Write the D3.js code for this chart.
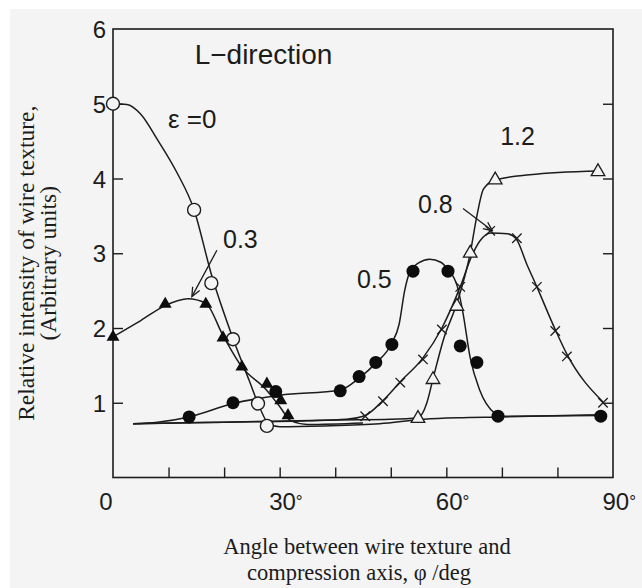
<!DOCTYPE html>
<html>
<head>
<meta charset="utf-8">
<script src="https://cdn.jsdelivr.net/npm/d3@7"></script>
<style>
  html, body { margin: 0; padding: 0; background: #ffffff; }
  svg { display: block; }
</style>
</head>
<body>
<svg id="chart" width="642" height="588"></svg>
<script>
// Relative intensity of the wire texture against the angle φ between the
// wire texture and the compression axis, one curve per strain ε (L-direction).

// ---- axis ticks and labels ----
const yTickValues = [1, 2, 3, 4, 5];
const yLabelValues = [1, 2, 3, 4, 5, 6];
const xTickValues = [10, 20, 30, 40, 50, 60, 70, 80];
const xLabelValues = [0, 30, 60, 90];

// ---- ε = 0 (open circles) ----
const eps0Curve = [[0, 5.0], [2.5, 4.99], [5, 4.86], [8, 4.52], [11.5, 4.08], [14.6, 3.58],
  [17.7, 2.72], [21.6, 1.86], [24.5, 1.3], [26.5, 0.92], [28, 0.72], [30, 0.68],
  [38, 0.69], [48, 0.72], [56, 0.78], [62, 0.8], [70, 0.81], [88, 0.84]];
const eps0Points = [[0, 5.0], [14.6, 3.58], [17.7, 2.6], [21.6, 1.85], [26.1, 0.99], [27.7, 0.69]];

// ---- ε = 0.3 (filled triangles) ----
const eps03Curve = [[0, 1.88], [5, 2.1], [9.4, 2.3], [13.5, 2.39], [16.7, 2.33], [19.8, 1.9],
  [23.2, 1.48], [27.5, 1.18], [30, 0.95], [32, 0.76], [35, 0.71], [45, 0.73]];
const eps03Points = [[0, 1.88], [9.4, 2.32], [16.7, 2.32], [19.8, 1.87], [23.2, 1.48],
  [27.7, 1.25], [30.2, 1.03], [31.5, 0.83]];

// ---- ε = 0.5 (filled circles) ----
const eps05Curve = [[3.6, 0.72], [8, 0.74], [13.7, 0.81], [21.6, 0.99], [30, 1.1], [40.9, 1.17],
  [44.3, 1.33], [47.3, 1.53], [50.2, 1.8], [51.5, 2.05], [52.5, 2.5], [53.5, 2.76], [55, 2.87],
  [57, 2.92], [59, 2.88], [60.3, 2.78], [62, 2.55], [63, 2.2], [64.3, 1.6], [66, 1.17],
  [68.7, 0.86], [70, 0.82], [87.8, 0.83]];
const eps05Points = [[13.7, 0.81], [21.6, 1.0], [29.3, 1.15], [40.9, 1.16], [44.3, 1.35],
  [47.3, 1.54], [50.2, 1.78], [54, 2.76], [60.3, 2.76], [62.5, 1.76], [65.5, 1.54],
  [69.3, 0.82], [87.8, 0.82]];

// ---- ε = 0.8 (crosses) ----
const eps08Curve = [[3.6, 0.72], [20, 0.74], [35, 0.76], [42, 0.78], [45.4, 0.83], [48.6, 1.03],
  [51.7, 1.28], [55.8, 1.6], [59.2, 2.0], [62.6, 2.57], [64.5, 2.95], [66, 3.16], [68, 3.27],
  [71, 3.26], [72.5, 3.2], [74.5, 2.85], [76.3, 2.55], [79.6, 1.98], [81.7, 1.65], [88.2, 1.01]];
const eps08Points = [[45.4, 0.82], [48.6, 1.02], [51.7, 1.27], [55.8, 1.58], [59.2, 1.98],
  [62.5, 2.55], [67.9, 3.3], [72.7, 3.2], [76.3, 2.55], [79.6, 1.96], [81.7, 1.62], [88.2, 1.0]];

// ---- ε = 1.2 (open triangles) ----
const eps12Curve = [[3.6, 0.72], [20, 0.74], [40, 0.77], [50, 0.78], [54.9, 0.8], [56.5, 1.0],
  [57.6, 1.32], [59.5, 1.85], [61.9, 2.33], [64.3, 3.0], [65.5, 3.5], [66.7, 3.86],
  [68.8, 3.98], [75, 4.05], [87.3, 4.1]];
const eps12Points = [[54.9, 0.79], [57.6, 1.31], [61.9, 2.29], [64.3, 3.0], [68.8, 3.98], [87.3, 4.09]];

// ---- layout ----
const W = 642, H = 588;
const plot = { left: 113, right: 613, top: 29, bottom: 477.5 };
const ink = "#1c1c1c";
const paper = "#f4f4f4";
const sans = "'Liberation Sans', Arial, Helvetica, sans-serif";
const serif = "'Liberation Serif', 'Times New Roman', serif";

const svg = d3.select("#chart");

svg.append("rect").attr("x", 10).attr("y", 9).attr("width", W - 10).attr("height", H - 9)
  .attr("fill", paper);

const x = d3.scaleLinear().domain([0, 90]).range([plot.left, plot.right]);
const y = d3.scaleLinear().domain([0, 6]).range([plot.bottom, plot.top]);

// inward ticks on left, right and bottom
const tickAxes = [
  { axis: d3.axisLeft(y).tickValues(yTickValues), tx: plot.left, ty: 0 },
  { axis: d3.axisRight(y).tickValues(yTickValues), tx: plot.right, ty: 0 },
  { axis: d3.axisBottom(x).tickValues(xTickValues), tx: 0, ty: plot.bottom }
];
tickAxes.forEach(a => {
  const g = svg.append("g").attr("transform", `translate(${a.tx},${a.ty})`)
    .call(a.axis.tickSizeInner(-10).tickSizeOuter(0).tickFormat(""));
  g.select(".domain").remove();
  g.selectAll(".tick line").attr("stroke", ink).attr("stroke-width", 1.4);
});

// frame
svg.append("rect")
  .attr("x", plot.left).attr("y", plot.top)
  .attr("width", plot.right - plot.left).attr("height", plot.bottom - plot.top)
  .attr("fill", "none").attr("stroke", ink).attr("stroke-width", 1.6);

// y tick labels
const yLab = svg.append("g").attr("transform", `translate(${plot.left},0)`)
  .call(d3.axisLeft(y).tickValues(yLabelValues).tickSize(0).tickPadding(7).tickFormat(d3.format("d")));
yLab.select(".domain").remove();
yLab.selectAll("text").attr("font-family", sans).attr("font-size", 24).attr("fill", ink)
  .attr("dy", "0.36em");

// x tick labels with degree marks
const xLab = svg.append("g").attr("transform", `translate(0,${plot.bottom})`)
  .call(d3.axisBottom(x).tickValues(xLabelValues).tickSize(0).tickPadding(15).tickFormat(""));
xLab.select(".domain").remove();
xLab.selectAll(".tick text").each(function (d) {
  const t = d3.select(this).attr("font-family", sans).attr("font-size", 24).attr("fill", ink);
  if (d === 0) {
    t.attr("text-anchor", "end").attr("x", -1).text("0");
  } else {
    t.attr("text-anchor", "start").attr("x", -11);
    t.append("tspan").text(String(d));
    t.append("tspan").attr("font-size", 17).attr("dy", "-0.15em").text("°");
  }
});

// axis titles
const yTitle = svg.append("text")
  .attr("transform", `translate(34,${(plot.top + plot.bottom) / 2 + 10}) rotate(-90)`)
  .attr("text-anchor", "middle").attr("font-family", serif).attr("font-size", 23.5).attr("fill", ink);
yTitle.append("tspan").attr("x", 0).attr("dy", 0).text("Relative intensity of wire texture,");
yTitle.append("tspan").attr("x", 0).attr("dy", 22).text("(Arbitrary units)");

const xTitle = svg.append("text").attr("text-anchor", "middle")
  .attr("font-family", serif).attr("font-size", 22.5).attr("fill", ink);
xTitle.append("tspan").attr("x", 367).attr("y", 554).text("Angle between wire texture and");
xTitle.append("tspan").attr("x", 359).attr("y", 580).text("compression axis, φ /deg");

// curves
const line = d3.line().x(d => x(d[0])).y(d => y(d[1])).curve(d3.curveMonotoneX);
const curves = [eps0Curve, eps03Curve, eps05Curve, eps08Curve, eps12Curve];
svg.append("g").selectAll("path").data(curves).join("path")
  .attr("d", line).attr("fill", "none").attr("stroke", ink).attr("stroke-width", 1.5)
  .attr("stroke-linejoin", "round");

// markers
const markers = svg.append("g");
markers.selectAll(".open-circle").data(eps0Points).join("circle")
  .attr("cx", d => x(d[0])).attr("cy", d => y(d[1])).attr("r", 6.5)
  .attr("fill", paper).attr("stroke", ink).attr("stroke-width", 1.4);

markers.selectAll(".filled-circle").data(eps05Points).join("circle")
  .attr("cx", d => x(d[0])).attr("cy", d => y(d[1])).attr("r", 6.5)
  .attr("fill", "#0d0d0d");

const tri = d3.symbol().type(d3.symbolTriangle).size(72);
markers.selectAll(".filled-tri").data(eps03Points).join("path")
  .attr("transform", d => `translate(${x(d[0])},${y(d[1])})`)
  .attr("d", tri).attr("fill", "#0d0d0d");

markers.selectAll(".open-tri").data(eps12Points).join("path")
  .attr("transform", d => `translate(${x(d[0])},${y(d[1])})`)
  .attr("d", d3.symbol().type(d3.symbolTriangle).size(80))
  .attr("fill", paper).attr("stroke", ink).attr("stroke-width", 1.3);

markers.selectAll(".cross").data(eps08Points).join("path")
  .attr("transform", d => `translate(${x(d[0])},${y(d[1])})`)
  .attr("d", d3.symbol().type(d3.symbolTimes).size(60))
  .attr("fill", "none").attr("stroke", ink).attr("stroke-width", 1.3);

// annotations
const defs = svg.append("defs");
defs.append("marker").attr("id", "vhead").attr("viewBox", "-1 -5 11 10")
  .attr("refX", 9).attr("refY", 0).attr("markerWidth", 11).attr("markerHeight", 10)
  .attr("markerUnits", "userSpaceOnUse").attr("orient", "auto")
  .append("path").attr("d", "M0,-4L9,0L0,4").attr("fill", "none")
  .attr("stroke", ink).attr("stroke-width", 1.3);

const label = (txt, phi, val, size) => svg.append("text")
  .attr("x", x(phi)).attr("y", y(val)).attr("font-family", sans)
  .attr("font-size", size).attr("fill", ink).text(txt);

label("L\u2212direction", 14.7, 5.53, 28);
label("\u03b5 =0", 9.9, 4.68, 26);
label("0.3", 19.8, 3.07, 25);
label("0.5", 43.9, 2.535, 25);
label("0.8", 54.9, 3.54, 25);
label("1.2", 69.7, 4.45, 25);

const arrows = [
  [[18.7, 3.04], [14.2, 2.42]],
  [[63.0, 3.6], [68.3, 3.3]]
];
svg.append("g").selectAll("line").data(arrows).join("line")
  .attr("x1", d => x(d[0][0])).attr("y1", d => y(d[0][1]))
  .attr("x2", d => x(d[1][0])).attr("y2", d => y(d[1][1]))
  .attr("stroke", ink).attr("stroke-width", 1.3).attr("marker-end", "url(#vhead)");
</script>
</body>
</html>
